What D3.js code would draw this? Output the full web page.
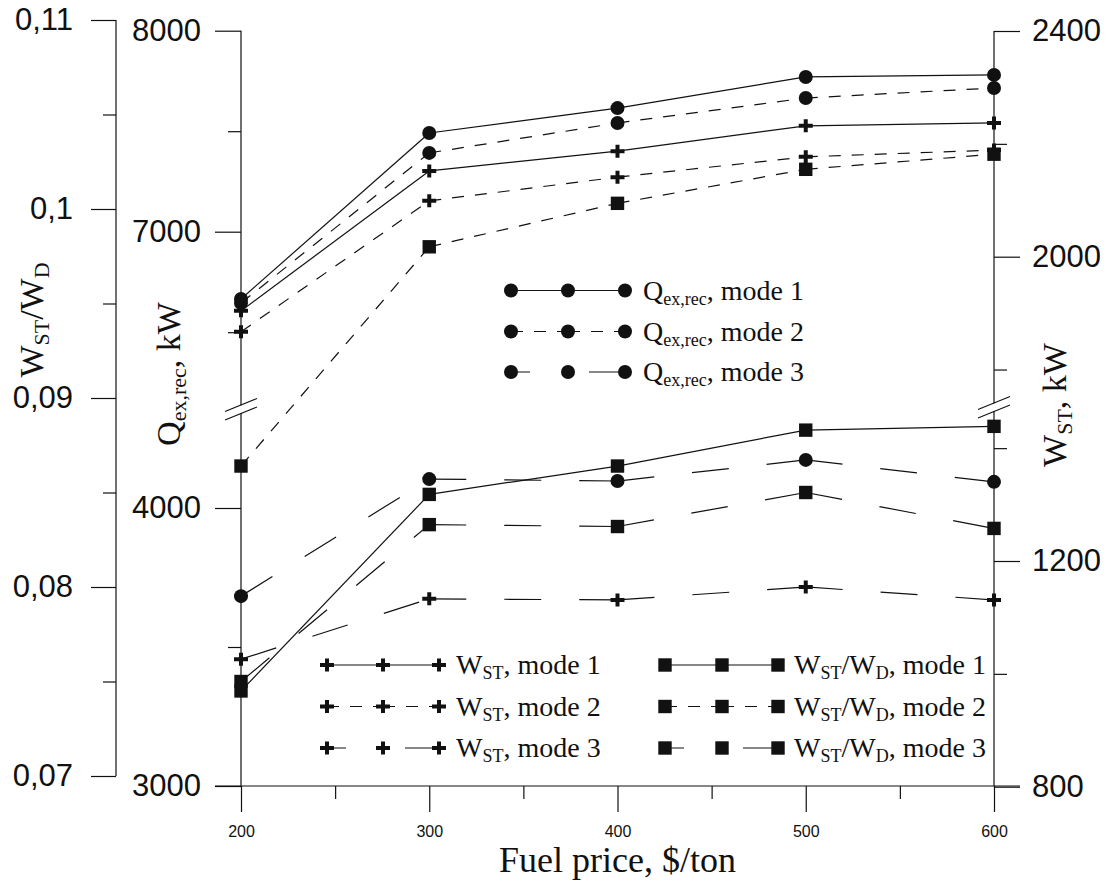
<!DOCTYPE html>
<html>
<head>
<meta charset="utf-8">
<script src="https://cdn.jsdelivr.net/npm/d3@7"></script>
<style>
  body { margin: 0; background: #fff; }
  svg { display: block; }
</style>
</head>
<body>
<div id="chart"></div>
<script>
// fuel price, $/ton
var fuelPrice = [200, 300, 400, 500, 600];
var priceMinor = [250, 350, 450, 550];

// Q_ex,rec, kW
var qMode1 = [6665, 7491, 7615, 7770, 7780];
var qMode2 = [6645, 7392, 7541, 7665, 7715];
var qMode3 = [3683, 4104, 4097, 4173, 4094];

// W_ST, kW
var wMode1 = [1904, 2152, 2187, 2232, 2237];
var wMode2 = [1867, 2099, 2141, 2177, 2189];
var wMode3 = [1026, 1133, 1131, 1154, 1131];

// W_ST/W_D
var rMode1 = [0.0745, 0.0849, 0.0864, 0.0883, 0.0885];
var rMode2 = [0.0864, 0.0980, 0.1003, 0.1021, 0.1029];
var rMode3 = [0.0750, 0.0833, 0.0832, 0.0850, 0.0831];

// axis ticks
var ratioTicks = [0.07, 0.08, 0.09, 0.1, 0.11];
var ratioMinor = [0.075, 0.085, 0.095, 0.105];
var qTicksHigh = [7000, 8000], qMinorHigh = [6500, 7500];
var qTicksLow = [3000, 4000], qMinorLow = [3500];
var wTicksHigh = [2000, 2400], wMinorHigh = [1800, 2200];
var wTicksLow = [800, 1200], wMinorLow = [1000, 1400];

var W = 1115, H = 884;
var INK = "#111";
var SANS = "'Liberation Sans', Arial, sans-serif";
var SERIF = "'Liberation Serif', 'Times New Roman', serif";

var svg = d3.select("#chart").append("svg")
    .attr("width", W)
    .attr("height", H);

// scales (the Q and W_ST axes are broken in two pieces)
var x = d3.scaleLinear().domain([200, 600]).range([241, 994]);
var yRatio = d3.scaleLinear().domain([0.07, 0.11]).range([776, 20]);
var yQHigh = d3.scaleLinear().domain([7000, 8000]).range([231.7, 30.7]);
var yQLow = d3.scaleLinear().domain([3000, 4000]).range([786, 508]);
var yWHigh = d3.scaleLinear().domain([2000, 2400]).range([256.7, 31]);
var yWLow = d3.scaleLinear().domain([800, 1200]).range([786.7, 561]);
var yQ = function(v) { return v > 5000 ? yQHigh(v) : yQLow(v); };
var yW = function(v) { return v > 1600 ? yWHigh(v) : yWLow(v); };

function styleAxis(g, size) {
  g.select(".domain").remove();
  g.selectAll(".tick line").attr("stroke", INK).attr("stroke-width", 1.2);
  g.selectAll(".tick text")
    .attr("fill", INK)
    .attr("font-family", SANS)
    .attr("font-size", size);
}

function addAxis(axis, tx, ty, size) {
  var g = svg.append("g")
    .attr("transform", "translate(" + tx + "," + ty + ")")
    .call(axis);
  styleAxis(g, size);
  return g;
}

function fmtComma(d) { return String(d).replace(".", ","); }
var fmtInt = d3.format("d");

// outer left axis: W_ST/W_D
addAxis(d3.axisLeft(yRatio).tickValues(ratioTicks).tickSize(25).tickPadding(18).tickFormat(fmtComma), 116, 0, 31);
addAxis(d3.axisLeft(yRatio).tickValues(ratioMinor).tickSize(13).tickFormat(""), 116, 0, 31);

// inner left axis: Q_ex,rec
addAxis(d3.axisLeft(yQHigh).tickValues(qTicksHigh).tickSize(26).tickPadding(14).tickFormat(fmtInt), 241, 0, 31);
addAxis(d3.axisLeft(yQHigh).tickValues(qMinorHigh).tickSize(13).tickFormat(""), 241, 0, 31);
addAxis(d3.axisLeft(yQLow).tickValues(qTicksLow).tickSize(26).tickPadding(14).tickFormat(fmtInt), 241, 0, 31);
addAxis(d3.axisLeft(yQLow).tickValues(qMinorLow).tickSize(13).tickFormat(""), 241, 0, 31);

// right axis: W_ST
addAxis(d3.axisRight(yWHigh).tickValues(wTicksHigh).tickSize(26).tickPadding(12).tickFormat(fmtInt), 994, 0, 31);
addAxis(d3.axisRight(yWHigh).tickValues(wMinorHigh).tickSize(13).tickFormat(""), 994, 0, 31);
addAxis(d3.axisRight(yWLow).tickValues(wTicksLow).tickSize(26).tickPadding(12).tickFormat(fmtInt), 994, 0, 31);
addAxis(d3.axisRight(yWLow).tickValues(wMinorLow).tickSize(13).tickFormat(""), 994, 0, 31);

// x axis
addAxis(d3.axisBottom(x).tickValues(fuelPrice).tickSize(26).tickPadding(14).tickFormat(fmtInt), 0, 786, 16);
addAxis(d3.axisBottom(x).tickValues(priceMinor).tickSize(13).tickFormat(""), 0, 786, 16);

// axis lines
var axisLines = [
  [116, 20, 116, 776],
  [241, yQHigh(8000), 241, 786],
  [994, yWHigh(2400), 994, 786],
  [215, 786, 1020, 786]
];
svg.selectAll(".axis-line").data(axisLines).enter().append("line")
    .attr("class", "axis-line")
    .attr("x1", function(d) { return d[0]; })
    .attr("y1", function(d) { return d[1]; })
    .attr("x2", function(d) { return d[2]; })
    .attr("y2", function(d) { return d[3]; })
    .attr("stroke", INK)
    .attr("stroke-width", 1.2);

// break marks
function drawBreak(cx, cy) {
  svg.append("polygon")
    .attr("points", [[cx - 16, cy + 7], [cx + 16, cy - 6], [cx + 16, cy + 2], [cx - 16, cy + 14]].join(" "))
    .attr("fill", "#fff");
  [0, 8.5].forEach(function(off) {
    svg.append("line")
      .attr("x1", cx - 16).attr("y1", cy + 6.5 + off)
      .attr("x2", cx + 16).attr("y2", cy - 6.5 + off)
      .attr("stroke", INK).attr("stroke-width", 1.1);
  });
}
drawBreak(241, 405);
drawBreak(994, 403);

// markers
function drawMarker(type, cx, cy) {
  if (type === "circle") {
    svg.append("circle").attr("cx", cx).attr("cy", cy).attr("r", 7).attr("fill", INK);
  } else if (type === "square") {
    svg.append("rect").attr("x", cx - 6.7).attr("y", cy - 6.7)
      .attr("width", 13.4).attr("height", 13.4).attr("fill", INK);
  } else {
    svg.append("path")
      .attr("d", "M" + (cx - 7) + "," + cy + "H" + (cx + 7) + "M" + cx + "," + (cy - 6.5) + "V" + (cy + 6.5))
      .attr("stroke", INK).attr("stroke-width", 4).attr("fill", "none");
  }
}

var dashes = { 1: null, 2: "12,11", 3: "37,38" };
var line = d3.line();

// each segment restarts its dash pattern, as in the original plot
function drawSeries(values, yScale, mode, marker) {
  var pts = fuelPrice.map(function(p, i) { return [x(p), yScale(values[i])]; });
  for (var i = 0; i < pts.length - 1; i++) {
    svg.append("path")
      .attr("d", line([pts[i], pts[i + 1]]))
      .attr("fill", "none")
      .attr("stroke", INK)
      .attr("stroke-width", 1.2)
      .attr("stroke-dasharray", dashes[mode]);
  }
  pts.forEach(function(p) { drawMarker(marker, p[0], p[1]); });
}

drawSeries(rMode2, yRatio, 2, "square");
drawSeries(wMode2, yW, 2, "plus");
drawSeries(wMode1, yW, 1, "plus");
drawSeries(qMode2, yQ, 2, "circle");
drawSeries(qMode1, yQ, 1, "circle");
drawSeries(wMode3, yW, 3, "plus");
drawSeries(rMode3, yRatio, 3, "square");
drawSeries(qMode3, yQ, 3, "circle");
drawSeries(rMode1, yRatio, 1, "square");

// text with subscripts: parts = [[text, isSub], ...]
function richText(g, parts, size, subSize, shift) {
  var t = g.append("text")
    .attr("font-family", SERIF)
    .attr("font-size", size)
    .attr("fill", INK);
  var down = false;
  parts.forEach(function(p) {
    var dy = 0;
    if (p[1] && !down) { dy = shift; down = true; }
    else if (!p[1] && down) { dy = -shift; down = false; }
    t.append("tspan")
      .attr("font-size", p[1] ? subSize : size)
      .attr("dy", dy)
      .text(p[0]);
  });
  return t;
}

// legends
var legendDash = { 1: null, 2: null, 3: "19,59,38" };
function drawLegendRow(xs, cy, mode, marker, parts, tx) {
  if (mode === 2) {
    for (var i = 0; i < xs.length - 1; i++) {
      svg.append("line")
        .attr("x1", xs[i]).attr("y1", cy).attr("x2", xs[i + 1]).attr("y2", cy)
        .attr("stroke", INK).attr("stroke-width", 1.2)
        .attr("stroke-dasharray", "12,11");
    }
  } else {
    svg.append("line")
      .attr("x1", xs[0]).attr("y1", cy).attr("x2", xs[xs.length - 1]).attr("y2", cy)
      .attr("stroke", INK).attr("stroke-width", 1.2)
      .attr("stroke-dasharray", legendDash[mode]);
  }
  xs.forEach(function(px) { drawMarker(marker, px, cy); });
  var g = svg.append("g").attr("transform", "translate(" + tx + "," + (cy + 9) + ")");
  richText(g, parts, 28, 18, 5);
}

var qRows = [290.5, 331.5, 372];
var lowRows = [665, 706.5, 748];
[1, 2, 3].forEach(function(m, i) {
  drawLegendRow([511, 568, 625], qRows[i], m, "circle",
    [["Q", false], ["ex,rec", true], [", mode " + m, false]], 643);
  drawLegendRow([327, 383, 439], lowRows[i], m, "plus",
    [["W", false], ["ST", true], [", mode " + m, false]], 456);
  drawLegendRow([665, 722, 778], lowRows[i], m, "square",
    [["W", false], ["ST", true], ["/W", false], ["D", true], [", mode " + m, false]], 794);
});

// axis titles
function rotatedTitle(cx, cy, parts) {
  var g = svg.append("g").attr("transform", "translate(" + cx + "," + cy + ") rotate(-90)");
  richText(g, parts, 34, 22, 6).attr("text-anchor", "middle");
}
rotatedTitle(43, 320, [["W", false], ["ST", true], ["/W", false], ["D", true]]);
rotatedTitle(180, 374, [["Q", false], ["ex,rec", true], [", kW", false]]);
rotatedTitle(1066, 405, [["W", false], ["ST", true], [", kW", false]]);

svg.append("text")
    .attr("x", x(400))
    .attr("y", 872)
    .attr("text-anchor", "middle")
    .attr("font-family", SERIF)
    .attr("font-size", 36)
    .attr("fill", INK)
    .text("Fuel price, $/ton");
</script>
</body>
</html>
